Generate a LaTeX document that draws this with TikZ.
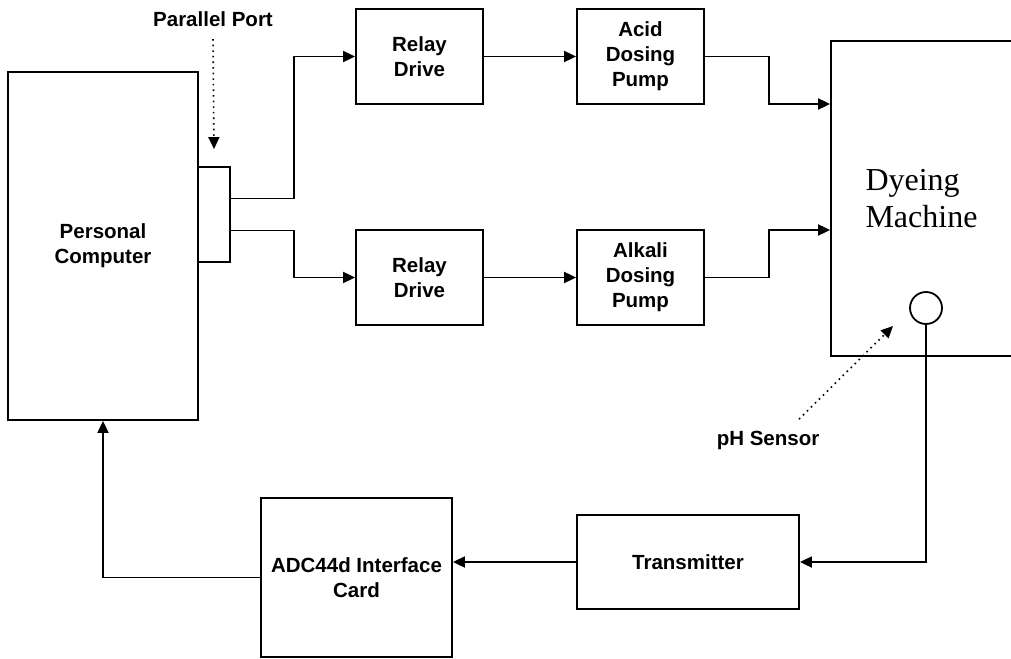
\documentclass[tikz,border=0pt]{standalone}
\usepackage{fontspec}
\setmainfont{Liberation Serif}
\setsansfont{Liberation Sans}
\usetikzlibrary{arrows.meta}
\usetikzlibrary{math}
\tikzset{
blk/.style={draw, line width=1.8pt, align=center, font=\sffamily\bfseries\fontsize{20.5}{25}\selectfont},
lbl/.style={align=center, font=\sffamily\bfseries\fontsize{20.5}{25}\selectfont},
arr/.style={line width=1.8pt, -{Triangle[length=12pt,width=11pt]}},
dotarr/.style={line width=1.6pt, dash pattern=on 1.6pt off 4pt, -{Triangle[length=12pt,width=11pt]}}
}

\begin{document}
\begin{tikzpicture}[x=1pt, y=-1pt]

\tikzmath{
\bw = 127; %width of small blocks
\bh = 95;
\yA = 56.5; %upper row
\yB = 277.5; %lower row
\xR = 419.5;
\xP = 640.5;
}

\useasboundingbox (0,0) rectangle (1011,658);

%computer and port:
\node[blk, minimum width=190pt, minimum height=348pt] (pc) at (103,246) {Personal\\Computer};
\node[blk, minimum width=32pt, minimum height=95pt] (port) at (214,214.5) {};
\node[lbl] (portlbl) at (213,19) {Parallel Port};

%relays and pumps:
\node[blk, minimum width=\bw pt, minimum height=\bh pt] (relayA) at (\xR,\yA) {Relay\\Drive};
\node[blk, minimum width=\bw pt, minimum height=\bh pt] (acid) at (\xP,\yA) {Acid\\Dosing\\Pump};
\node[blk, minimum width=\bw pt, minimum height=\bh pt] (relayB) at (\xR,\yB) {Relay\\Drive};
\node[blk, minimum width=\bw pt, minimum height=\bh pt] (alkali) at (\xP,\yB) {Alkali\\Dosing\\Pump};

%machine:
\node[draw, line width=1.8pt, minimum width=181pt, minimum height=315pt, align=left,
  font=\fontsize{32}{37}\selectfont] (dye) at (921.5,198.5) {Dyeing\\Machine};
\node[draw, circle, line width=1.8pt, minimum size=32pt, inner sep=0pt] (sensor) at (926,308) {};
\node[lbl] (phlbl) at (768,440) {pH Sensor};

%feedback:
\node[blk, minimum width=222pt, minimum height=94pt] (tx) at (688,562) {Transmitter};
\node[blk, minimum width=191pt, minimum height=159pt] (adc) at (356.5,577.5) {ADC44d Interface\\Card};

%connections:
\draw[arr] ([yshift=16pt]port.east) -- ++(63,0) |- (relayA.west);
\draw[arr] ([yshift=-16pt]port.east) -- ++(63,0) |- (relayB.west);
\draw[arr] (relayA) -- (acid);
\draw[arr] (relayB) -- (alkali);
\draw[arr] (acid.east) -- ++(64,0) |- ([yshift=94.5pt]dye.west);
\draw[arr] (alkali.east) -- ++(64,0) |- ([yshift=-31.5pt]dye.west);
\draw[arr] (sensor.south) |- (tx.east);
\draw[arr] (tx.west) -- (tx.west -| adc.east);
\draw[arr] (adc.west) -| (pc.south);

%pointers
\draw[dotarr] ([yshift=-9pt]portlbl.south) -- ([yshift=17pt]port.north);
\draw[dotarr] ([xshift=31pt,yshift=8pt]phlbl.north) -- ([xshift=-33pt,yshift=-18pt]sensor.center);

\end{tikzpicture}
\end{document}
